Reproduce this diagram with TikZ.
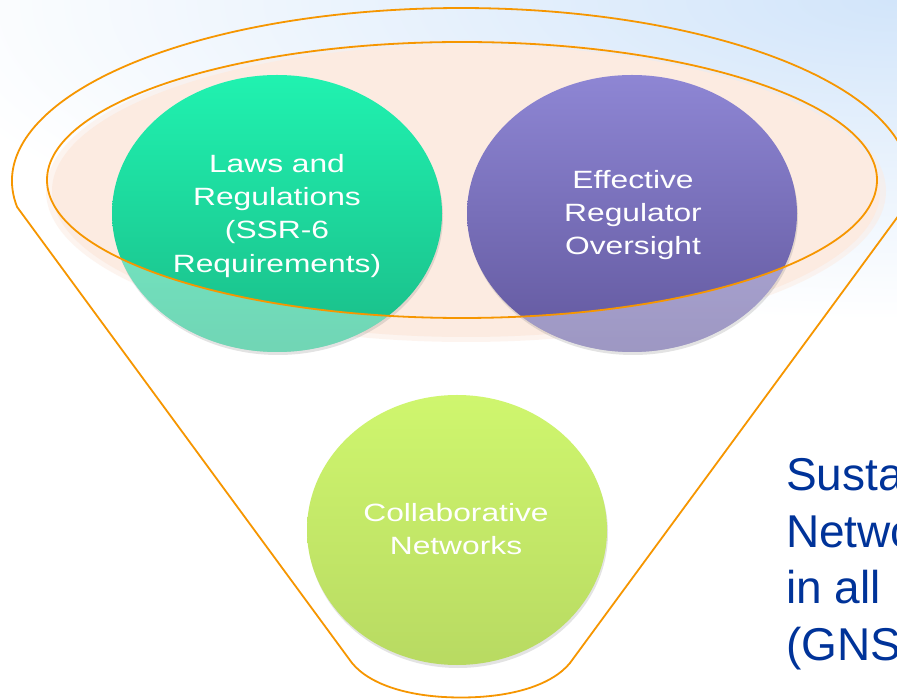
\documentclass[tikz,border=0pt]{standalone}
\usepackage{fontspec}
\setmainfont{Liberation Sans}
\newfontfamily\bubblefont[FakeStretch=1.27]{Liberation Sans}
\usetikzlibrary{shapes.geometric,shadows}

\definecolor{rimorange}{RGB}{246,150,0}
\definecolor{peach}{RGB}{252,235,225}
\definecolor{skyblue}{RGB}{210,229,250}
\definecolor{greentop}{RGB}{32,242,176}
\definecolor{greenbot}{RGB}{26,188,136}
\definecolor{purpletop}{RGB}{142,134,212}
\definecolor{purplebot}{RGB}{98,88,158}
\definecolor{limetop}{RGB}{207,246,110}
\definecolor{limebot}{RGB}{184,218,98}
\definecolor{goalblue}{RGB}{0,51,153}

\begin{document}
\begin{tikzpicture}[x=1pt,y=1pt,
  rim/.style={draw=rimorange, line width=1.8pt},
  bubble/.style={ellipse, inner sep=0pt, draw=none,
    drop shadow={opacity=0.22, shadow xshift=1pt, shadow yshift=-3pt}},
  bubbletext/.style={text=white, align=center, inner sep=0pt,
    font={\bubblefont\fontsize{25pt}{33.3pt}\selectfont}},
  goaltext/.style={text=goalblue, align=left, inner sep=0pt,
    font={\fontsize{46pt}{56.7pt}\selectfont}}]

\useasboundingbox (0,0) rectangle (897,699);
\clip (0,0) rectangle (897,699);

% slide background with a pale blue glow in the upper right corner
\fill[white] (0,0) rectangle (897,699);
\shade[inner color=skyblue, outer color=white] (897,699) ellipse [x radius=1000, y radius=320];

% funnel outline: top rim, tapering sides and rounded spout
\draw[rim] (17.1,492) arc [start angle=188.64, end angle=-8.64, x radius=449, y radius=173]
  -- (570,36) .. controls (552,14) and (512,1.5) .. (461,1.5)
  .. controls (410,1.5) and (370,14) .. (352,36) -- cycle;

% soft peach disc inside the rim
\fill[peach, opacity=0.5] (466,508) ellipse [x radius=420, y radius=151];
\fill[peach] (466,508) ellipse [x radius=414, y radius=146];

% the two upper bubbles
\node[bubble, minimum width=330pt, minimum height=277pt,
  top color=greentop, bottom color=greenbot] (laws) at (277,485.5) {};
\node[bubble, minimum width=330pt, minimum height=277pt,
  top color=purpletop, bottom color=purplebot] (oversight) at (632,485.5) {};

% parts of the upper bubbles hanging below the inner rim are washed out
\begin{scope}
  \clip (laws.center) ellipse [x radius=165, y radius=138.5]
        (oversight.center) ellipse [x radius=165, y radius=138.5];
  \fill[white, opacity=0.38, even odd rule] (0,0) rectangle (897,699)
        (462,519) ellipse [x radius=415, y radius=138];
\end{scope}

% inner rim
\draw[rim] (462,519) ellipse [x radius=415, y radius=138];

% bubble at the bottom of the funnel
\node[bubble, minimum width=300pt, minimum height=270pt,
  top color=limetop, bottom color=limebot] (networks) at (457,169) {};

% bubble labels
\node[bubbletext] (lawslabel) at (277,483.2) {Laws and\\Regulations\\(SSR-6\\Requirements)};
\node[bubbletext] (oversightlabel) at (633,483.8) {Effective\\Regulator\\Oversight};
\node[bubbletext, font={\bubblefont\fontsize{25pt}{32.3pt}\selectfont}]
  (networkslabel) at (456,170) {Collaborative\\Networks};

% goal text running off the right edge
\node[goaltext, anchor=north west] (goal) at (786,241) {Susta\\Netwo\\in all\\(GNS};

\end{tikzpicture}
\end{document}
